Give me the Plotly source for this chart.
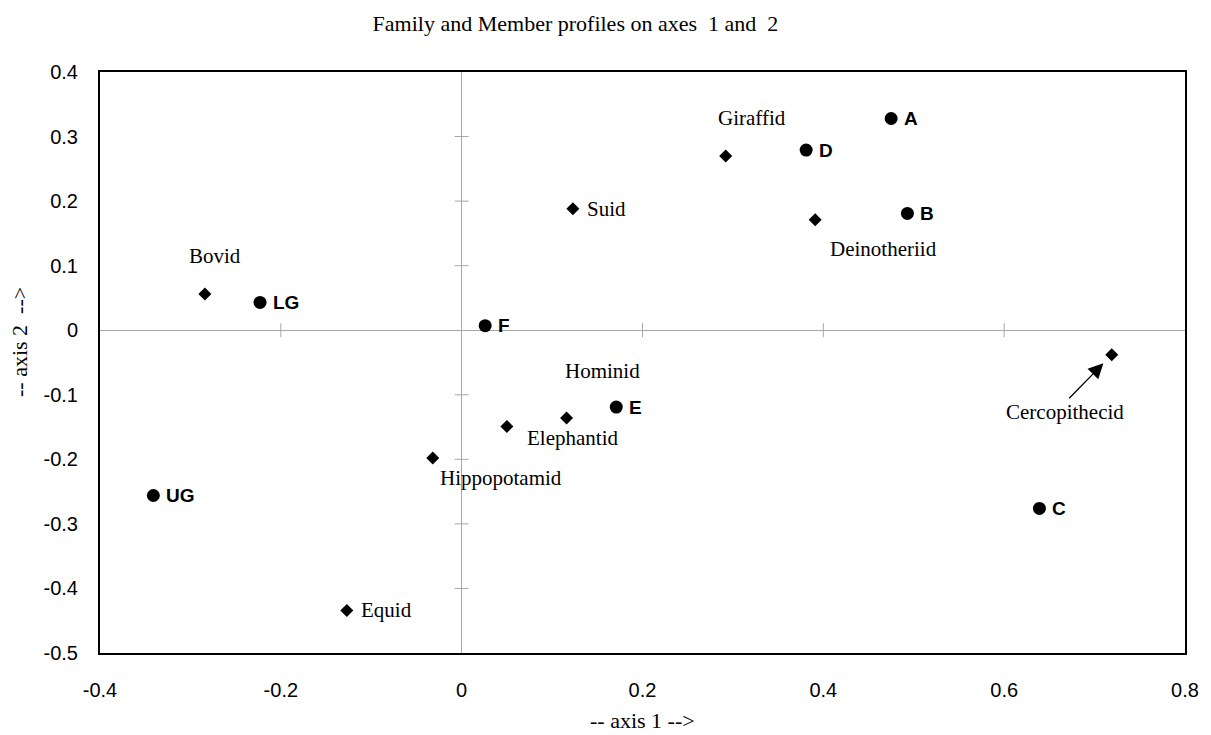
import plotly.graph_objects as go

# Correspondence-analysis coordinates: family profiles (diamonds)
families = ["Bovid", "Suid", "Giraffid", "Deinotheriid", "Cercopithecid",
            "Hominid", "Elephantid", "Hippopotamid", "Equid"]
fam_axis1 = [-0.284, 0.123, 0.292, 0.391, 0.719, 0.116, 0.050, -0.032, -0.127]
fam_axis2 = [0.056, 0.188, 0.270, 0.171, -0.038, -0.136, -0.149, -0.198, -0.434]

# Member profiles (circles)
members = ["A", "B", "C", "D", "E", "F", "LG", "UG"]
mem_axis1 = [0.475, 0.493, 0.639, 0.381, 0.171, 0.026, -0.223, -0.341]
mem_axis2 = [0.328, 0.181, -0.276, 0.279, -0.119, 0.007, 0.043, -0.256]

x_ticks = [-0.4, -0.2, 0, 0.2, 0.4, 0.6, 0.8]
x_tick_text = ["-0.4", "-0.2", "0", "0.2", "0.4", "0.6", "0.8"]
y_ticks = [0.4, 0.3, 0.2, 0.1, 0, -0.1, -0.2, -0.3, -0.4, -0.5]
y_tick_text = ["0.4", "0.3", "0.2", "0.1", "0", "-0.1", "-0.2", "-0.3", "-0.4", "-0.5"]

SERIF = "Liberation Serif, Times New Roman, serif"
SANS = "Liberation Sans, Arial, sans-serif"

# label placement for family names: (xshift px, yshift px, anchor)
fam_label_pos = {
    "Bovid": (10, 38, "center"),
    "Suid": (12, 0, "left"),
    "Giraffid": (26, 38, "center"),
    "Deinotheriid": (68, -29, "center"),
    "Cercopithecid": (-47, -57, "center"),
    "Hominid": (36, 47, "center"),
    "Elephantid": (66, -12, "center"),
    "Hippopotamid": (68, -20, "center"),
    "Equid": (12, 0, "left"),
}

fig = go.Figure()

# small cross ticks along the zero lines
inner_y = [v for v in y_ticks if v not in (0, 0.4, -0.5)]
inner_x = [v for v in x_ticks if v not in (0, -0.4, 0.8)]
fig.add_trace(go.Scatter(
    x=[0] * len(inner_y), y=inner_y, mode="markers", hoverinfo="skip",
    marker=dict(symbol="line-ew", size=10, line=dict(color="#a6a6a6", width=1)),
    showlegend=False))
fig.add_trace(go.Scatter(
    x=inner_x, y=[0] * len(inner_x), mode="markers", hoverinfo="skip",
    marker=dict(symbol="line-ns", size=10, line=dict(color="#a6a6a6", width=1)),
    showlegend=False))

fig.add_trace(go.Scatter(
    x=fam_axis1, y=fam_axis2, mode="markers", name="Family",
    marker=dict(symbol="diamond", size=10, color="black"),
    showlegend=False))
fig.add_trace(go.Scatter(
    x=mem_axis1, y=mem_axis2, mode="markers", name="Member",
    marker=dict(symbol="circle", size=13, color="black"),
    showlegend=False))

annotations = []
for name, xv, yv in zip(families, fam_axis1, fam_axis2):
    dx, dy, anchor = fam_label_pos[name]
    annotations.append(dict(
        x=xv, y=yv, xref="x", yref="y", text=name, showarrow=False,
        xanchor=anchor, yanchor="middle", xshift=dx, yshift=dy,
        font=dict(family=SERIF, size=21, color="black")))

for name, xv, yv in zip(members, mem_axis1, mem_axis2):
    annotations.append(dict(
        x=xv, y=yv, xref="x", yref="y", text="<b>%s</b>" % name, showarrow=False,
        xanchor="left", yanchor="middle", xshift=11, yshift=0,
        font=dict(family=SANS, size=19, color="black")))

# pointer from the Cercopithecid label to its marker
ci = families.index("Cercopithecid")
annotations.append(dict(
    x=fam_axis1[ci], y=fam_axis2[ci], xref="x", yref="y", text="",
    showarrow=True, ax=-44, ay=45, standoff=12,
    arrowhead=2, arrowsize=2.3, arrowwidth=1.3, arrowcolor="black"))

# axis titles
annotations.append(dict(
    x=0.5, y=-0.1411, xref="paper", yref="paper", showarrow=False,
    text="-- axis 1 -->", xanchor="center", yanchor="bottom",
    font=dict(family=SERIF, size=22, color="black")))
annotations.append(dict(
    x=-0.0742, y=0.5, xref="paper", yref="paper", showarrow=False,
    text="-- axis 2  -->", textangle=-90, xanchor="center", yanchor="middle",
    yshift=21, font=dict(family=SERIF, size=22, color="black")))

fig.update_layout(
    width=1211, height=735,
    margin=dict(l=100, r=19, t=72, b=82),
    paper_bgcolor="white", plot_bgcolor="white",
    title=dict(text="Family and Member profiles on axes &nbsp;1 and &nbsp;2",
               xref="container", yref="container", x=0.4752, y=0.9687,
               xanchor="center", yanchor="middle",
               font=dict(family=SERIF, size=22, color="black")),
    annotations=annotations,
    xaxis=dict(range=[-0.4, 0.8], tickvals=x_ticks, ticktext=x_tick_text,
               showgrid=False, zeroline=True, zerolinecolor="#a6a6a6",
               zerolinewidth=1, showline=True, mirror=True, linecolor="black",
               linewidth=2, ticks="", ticklabelstandoff=18,
               tickfont=dict(family=SANS, size=20, color="black")),
    yaxis=dict(range=[-0.5, 0.4], tickvals=y_ticks, ticktext=y_tick_text,
               showgrid=False, zeroline=True, zerolinecolor="#a6a6a6",
               zerolinewidth=1, showline=True, mirror=True, linecolor="black",
               linewidth=2, ticks="", ticklabelstandoff=16,
               tickfont=dict(family=SANS, size=20, color="black")),
)

fig.write_html("out.html")
